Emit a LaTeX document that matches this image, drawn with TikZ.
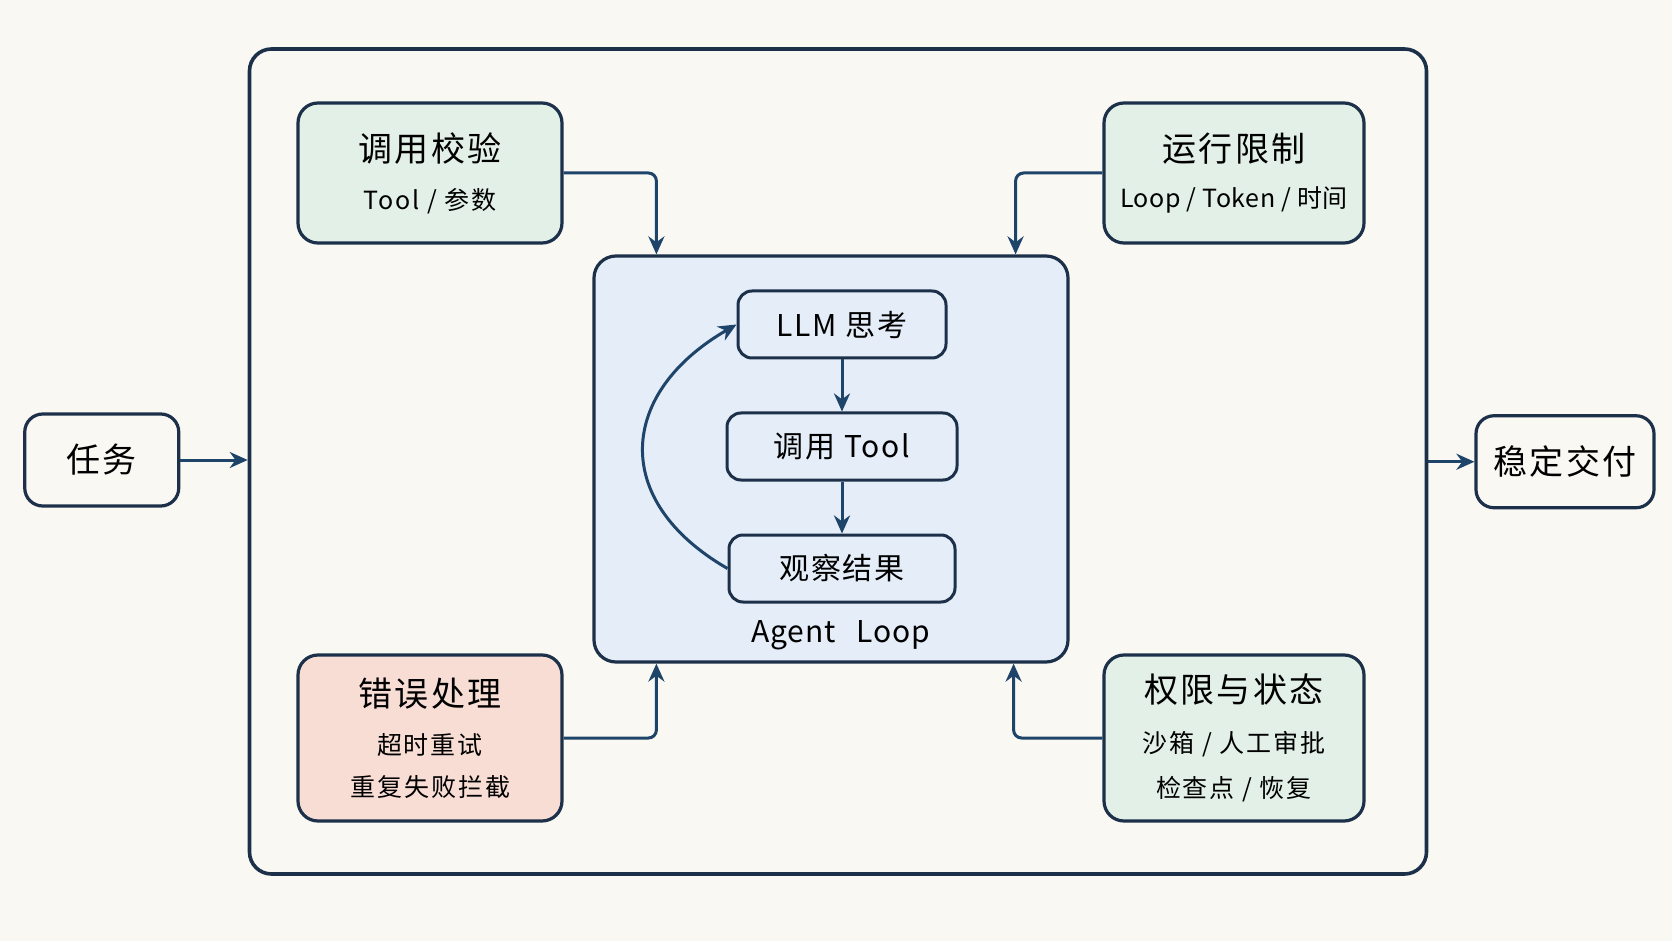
\documentclass[tikz,border=0pt]{standalone}
\usepackage{fontspec}
\setmainfont{Noto Sans CJK SC}
\usetikzlibrary{arrows.meta, positioning, calc}

\definecolor{paper}{HTML}{FAF8F3}
\definecolor{ink}{HTML}{1C3149}
\definecolor{flow}{HTML}{1F4469}
\definecolor{mint}{HTML}{E2F0E7}
\definecolor{blush}{HTML}{F8DDD5}
\definecolor{sky}{HTML}{E4EDF8}

\newcommand{\headfont}{\fontsize{17}{20}\selectfont\addfontfeatures{LetterSpace=7}}
\newcommand{\subfont}{\fontsize{12.5}{16}\selectfont\addfontfeatures{LetterSpace=8}}

\begin{document}
\begin{tikzpicture}[x=0.5pt, y=-0.5pt,
                outerbox/.style={draw=ink, line width=1.8pt, rounded corners=11pt},
                endbox/.style={draw=ink, line width=1.6pt, rounded corners=9pt, fill=paper,
                               minimum width=77pt, minimum height=46pt, font=\headfont},
                sidebox/.style={draw=ink, line width=1.6pt, rounded corners=10pt, fill=mint,
                                align=center, minimum width=132pt, minimum height=70pt},
                loopbox/.style={draw=ink, line width=1.6pt, rounded corners=11pt, fill=sky,
                                minimum width=237pt, minimum height=203pt},
                stepbox/.style={draw=ink, line width=1.5pt, rounded corners=7pt, fill=sky,
                                minimum height=33.5pt,
                                font=\fontsize{15}{18}\selectfont\addfontfeatures{LetterSpace=6}},
                link/.style={-{Stealth[length=9pt, width=8pt]}, line width=1.5pt, draw=flow,
                             rounded corners=4pt}]

                % Paper
                \fill[paper] (0,0) rectangle (1672,941);
                \useasboundingbox (0,0) rectangle (1672,941);

                % Outer frame and its ends
                \node[outerbox, minimum width=588.5pt, minimum height=412.5pt] (frame) at (838,461.5) {};
                \node[endbox] (task) at (101.75,460) {任务};
                \node[endbox, minimum width=89pt] (deliver) at (1565,461.75) {稳定交付};

                % Agent loop
                \node[loopbox] (loop) at (831,459) {};
                \node[stepbox, minimum width=104pt] (llm) at (842,324.5) {LLM 思考};
                \node[stepbox, minimum width=115pt, below=26pt of llm] (tool) {调用 Tool};
                \node[stepbox, minimum width=113pt, below=26pt of tool] (obs) {观察结果};
                \node[font=\fontsize{15}{18}\selectfont\addfontfeatures{LetterSpace=3}] (looplabel)
                    at ([xshift=5pt, yshift=14pt]loop.south) {Agent\hspace{0.7em}Loop};

                % Guards around the loop
                \node[sidebox] (check) at (430,173)
                    {\headfont 调用校验\\[11pt]\subfont Tool\ /\ 参数};
                \node[sidebox, minimum width=130pt] (limit) at (1234,173)
                    {\headfont 运行限制\\[11pt]\subfont\addfontfeatures{LetterSpace=2}Loop\ /\ Token\ /\ 时间};
                \node[sidebox, fill=blush, minimum height=83pt] (error) at (430,738)
                    {\headfont 错误处理\\[12pt]\subfont 超时重试\\[9pt]\subfont 重复失败拦截};
                \node[sidebox, minimum width=130pt, minimum height=83pt] (perm) at (1234,738)
                    {\headfont 权限与状态\\[12pt]\subfont 沙箱\ /\ 人工审批\\[9pt]\subfont 检查点\ /\ 恢复};

                % Flow arrows
                \draw[link] (task) -- (task -| frame.west);
                \draw[link] (frame.east |- deliver) -- (deliver);
                \draw[link] (llm) -- (tool);
                \draw[link] (tool) -- (obs);
                \draw[link] (obs.west) .. controls +(150:68pt) and +(210:68pt) .. (llm.west);

                % Guard arrows
                \draw[link] (check.east) -| ([xshift=32pt]loop.north west);
                \draw[link] (limit.west) -| ([xshift=-27pt]loop.north east);
                \draw[link] (error.east) -| ([xshift=32pt]loop.south west);
                \draw[link] (perm.west) -| ([xshift=-28pt]loop.south east);
            \end{tikzpicture}
\end{document}
